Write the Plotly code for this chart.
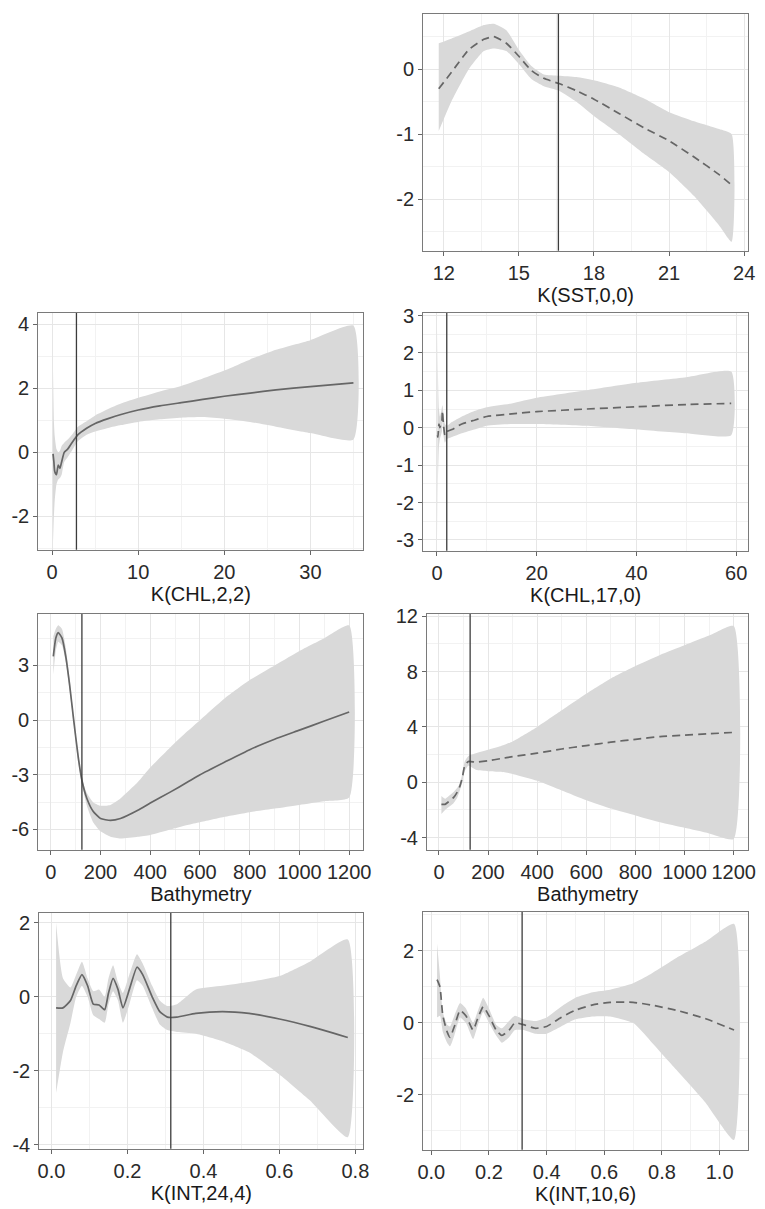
import plotly.graph_objects as go

# ---------------- data ----------------
sst_x = [11.8, 12.3, 13.0, 13.6, 14.0, 14.5, 15.0, 15.5, 16.0, 16.6, 17.3, 18.0, 19.0, 20.0, 21.0, 22.0, 23.0, 23.5]
sst_fit = [-0.3, -0.05, 0.3, 0.46, 0.5, 0.4, 0.2, -0.02, -0.14, -0.22, -0.33, -0.46, -0.68, -0.9, -1.1, -1.35, -1.62, -1.78]
sst_up = [0.4, 0.47, 0.58, 0.68, 0.7, 0.6, 0.3, 0.05, -0.08, -0.1, -0.12, -0.17, -0.28, -0.45, -0.66, -0.8, -0.92, -1.0]
sst_lo = [-0.95, -0.5, 0.0, 0.28, 0.32, 0.28, 0.08, -0.15, -0.26, -0.33, -0.5, -0.72, -1.0, -1.3, -1.58, -1.95, -2.4, -2.65]
sst_vline = 16.58

chl22_x = [0.1, 0.2, 0.3, 0.5, 0.7, 0.9, 1.1, 1.4, 1.8, 2.3, 3.0, 4.0, 5.0, 6.5, 8.0, 10, 12.5, 15, 17.5, 20, 23, 26, 30, 35]
chl22_fit = [-0.05, -0.3, -0.6, -0.7, -0.4, -0.5, -0.3, 0.0, 0.1, 0.3, 0.55, 0.75, 0.9, 1.05, 1.18, 1.32, 1.45, 1.55, 1.65, 1.75, 1.85, 1.95, 2.05, 2.17]
chl22_up = [2.6, 1.0, 0.5, 0.1, 0.0, 0.05, 0.2, 0.3, 0.4, 0.55, 0.8, 0.97, 1.15, 1.35, 1.52, 1.7, 1.9, 2.07, 2.3, 2.55, 2.9, 3.2, 3.5, 3.95]
chl22_lo = [-2.8, -2.0, -1.5, -1.0, -0.85, -0.8, -0.7, -0.3, -0.15, 0.05, 0.35, 0.55, 0.65, 0.76, 0.85, 0.95, 1.03, 1.08, 1.1, 1.05, 0.95, 0.8, 0.6, 0.4]
chl22_vline = 2.82

chl170_x = [0.1, 0.2, 0.4, 0.6, 0.8, 1.0, 1.1, 1.3, 1.6, 2.0, 3.0, 5.0, 7.5, 10, 15, 20, 30, 40, 50, 59]
chl170_fit = [-0.2, -0.25, 0.1, 0.0, 0.1, 0.2, 0.45, 0.1, -0.2, -0.1, -0.05, 0.1, 0.2, 0.3, 0.37, 0.43, 0.5, 0.56, 0.62, 0.65]
chl170_up = [2.7, 1.5, 0.5, 0.3, 0.4, 0.55, 0.6, 0.4, 0.1, 0.05, 0.15, 0.3, 0.45, 0.55, 0.65, 0.8, 1.0, 1.2, 1.35, 1.5]
chl170_lo = [-3.0, -1.5, -0.5, -0.3, -0.2, -0.1, 0.2, -0.2, -0.4, -0.3, -0.25, -0.15, -0.05, 0.05, 0.1, 0.1, 0.05, -0.05, -0.15, -0.2]
chl170_vline = 1.97

bath1_x = [10, 20, 30, 45, 60, 75, 92, 110, 125, 145, 170, 200, 240, 280, 350, 400, 480, 550, 600, 700, 800, 900, 1000, 1100, 1200]
bath1_fit = [3.5, 4.5, 4.8, 4.5, 3.5, 2.0, 0.0, -2.0, -3.3, -4.3, -5.0, -5.4, -5.5, -5.4, -4.95, -4.55, -3.95, -3.4, -3.0, -2.3, -1.62, -1.05, -0.55, -0.05, 0.45]
bath1_up = [4.6, 5.0, 5.2, 5.0, 4.0, 2.3, 0.1, -1.8, -3.2, -4.0, -4.5, -4.7, -4.65, -4.3, -3.4, -2.6, -1.5, -0.6, 0.0, 1.2, 2.2, 3.0, 3.8, 4.5, 5.2]
bath1_lo = [2.5, 3.8, 4.3, 4.1, 3.2, 1.7, -0.2, -2.3, -3.5, -4.7, -5.6, -6.1, -6.4, -6.5, -6.4, -6.3, -6.0, -5.75, -5.6, -5.3, -5.05, -4.85, -4.65, -4.45, -4.25]
bath1_vline = 125

bath2_x = [10, 25, 40, 60, 75, 85, 95, 105, 120, 150, 200, 250, 300, 400, 500, 600, 700, 800, 900, 1000, 1100, 1200]
bath2_fit = [-1.6, -1.6, -1.4, -1.1, -0.7, -0.3, 0.3, 1.2, 1.5, 1.45, 1.55, 1.7, 1.85, 2.1, 2.4, 2.65, 2.9, 3.1, 3.3, 3.4, 3.5, 3.6]
bath2_up = [-1.0, -1.2, -1.0, -0.7, -0.4, -0.1, 0.6, 1.5, 1.9, 2.1, 2.35, 2.6, 2.95, 4.0, 5.2, 6.4, 7.5, 8.4, 9.2, 9.9, 10.6, 11.3]
bath2_lo = [-2.3, -2.0, -1.8, -1.5, -1.1, -0.6, 0.0, 0.8, 1.2, 0.9, 0.8, 0.75, 0.6, 0.1, -0.6, -1.3, -1.9, -2.4, -2.9, -3.3, -3.7, -4.1]
bath2_vline = 127

int244_x = [0.012, 0.03, 0.05, 0.065, 0.08, 0.095, 0.11, 0.125, 0.14, 0.15, 0.162, 0.175, 0.188, 0.205, 0.225, 0.24, 0.265, 0.285, 0.305, 0.33, 0.38, 0.45, 0.52, 0.6, 0.68, 0.78]
int244_fit = [-0.3, -0.3, -0.1, 0.3, 0.6, 0.3, -0.2, -0.22, -0.35, 0.1, 0.5, 0.2, -0.3, 0.2, 0.8, 0.6, 0.0, -0.4, -0.55, -0.55, -0.45, -0.4, -0.45, -0.6, -0.8, -1.1]
int244_up = [2.0, 0.5, 0.25, 0.6, 0.95, 0.5, 0.15, 0.2, 0.0, 0.5, 0.85, 0.4, 0.1, 0.6, 1.15, 0.9, 0.3, -0.1, -0.25, -0.2, 0.2, 0.3, 0.4, 0.56, 0.95, 1.55]
int244_lo = [-2.6, -1.5, -0.7, 0.0, 0.3, 0.0, -0.5, -0.6, -0.7, -0.2, 0.15, -0.1, -0.7, -0.2, 0.45, 0.3, -0.3, -0.75, -0.9, -0.95, -1.0, -1.2, -1.5, -2.1, -2.8, -3.8]
int244_vline = 0.314

int106_x = [0.02, 0.03, 0.04, 0.055, 0.065, 0.08, 0.1, 0.12, 0.145, 0.16, 0.18, 0.2, 0.225, 0.245, 0.27, 0.29, 0.32, 0.36, 0.4, 0.45, 0.5, 0.56, 0.62, 0.7, 0.76, 0.85, 0.95, 1.05]
int106_fit = [1.2, 1.0, 0.2, -0.25, -0.4, -0.1, 0.35, 0.2, -0.2, 0.1, 0.45, 0.2, -0.2, -0.35, -0.2, 0.0, -0.05, -0.15, -0.1, 0.15, 0.35, 0.5, 0.57, 0.57, 0.5, 0.35, 0.12, -0.2]
int106_up = [2.2, 1.3, 0.3, -0.05, -0.1, 0.2, 0.55, 0.4, 0.0, 0.3, 0.7, 0.4, -0.05, -0.15, 0.05, 0.2, 0.1, 0.05, 0.15, 0.45, 0.7, 0.85, 0.92, 1.1, 1.35, 1.8, 2.25, 2.75]
int106_lo = [0.15, 0.2, -0.25, -0.55, -0.65, -0.35, 0.15, 0.0, -0.45, -0.1, 0.3, 0.0, -0.35, -0.55, -0.4, -0.2, -0.2, -0.3, -0.3, -0.1, 0.1, 0.18, 0.18, 0.0, -0.5, -1.3, -2.2, -3.25]
int106_vline = 0.315

# axis titles and tick labels
titles = ["K(SST,0,0)", "K(CHL,2,2)", "K(CHL,17,0)", "Bathymetry", "Bathymetry", "K(INT,24,4)", "K(INT,10,6)"]
x_tickvals = [[12, 15, 18, 21, 24], [0, 10, 20, 30], [0, 20, 40, 60],
              [0, 200, 400, 600, 800, 1000, 1200], [0, 200, 400, 600, 800, 1000, 1200],
              [0.0, 0.2, 0.4, 0.6, 0.8], [0.0, 0.2, 0.4, 0.6, 0.8, 1.0]]
x_ticktext = [["12", "15", "18", "21", "24"], ["0", "10", "20", "30"], ["0", "20", "40", "60"],
              ["0", "200", "400", "600", "800", "1000", "1200"], ["0", "200", "400", "600", "800", "1000", "1200"],
              ["0.0", "0.2", "0.4", "0.6", "0.8"], ["0.0", "0.2", "0.4", "0.6", "0.8", "1.0"]]
y_tickvals = [[-2, -1, 0], [-2, 0, 2, 4], [-3, -2, -1, 0, 1, 2, 3], [-6, -3, 0, 3],
              [-4, 0, 4, 8, 12], [-4, -2, 0, 2], [-2, 0, 2]]
y_ticktext = [["-2", "-1", "0"], ["-2", "0", "2", "4"], ["-3", "-2", "-1", "0", "1", "2", "3"],
              ["-6", "-3", "0", "3"], ["-4", "0", "4", "8", "12"], ["-4", "-2", "0", "2"], ["-2", "0", "2"]]

# ---------------- layout geometry ----------------
W, H = 765, 1209
panels_px = [  # (left, right, top, bottom) in px
    (425, 756, 5, 245),
    (33, 364, 308, 548),
    (425, 756, 308, 549),
    (33, 364, 613, 852),
    (429, 756, 613, 852),
    (34, 364, 916, 1155),
    (425, 756, 915, 1156),
]
x_ranges = [[11.18, 24.16], [-1.6, 36.15], [-2.75, 62.4], [-50, 1257], [-48, 1259], [-0.032, 0.821], [-0.028, 1.099]]
y_ranges = [[-2.79, 0.85], [-3.04, 4.35], [-3.29, 3.07], [-7.11, 5.83], [-4.88, 12.17], [-4.11, 2.27], [-3.52, 3.08]]
x_minor = [1.5, 5, 10, 100, 100, 0.1, 0.1]
y_minor = [0.5, 1, 0.5, 1.5, 2, 1, 1]

series = [
    (sst_x, sst_fit, sst_up, sst_lo, sst_vline, True),
    (chl22_x, chl22_fit, chl22_up, chl22_lo, chl22_vline, False),
    (chl170_x, chl170_fit, chl170_up, chl170_lo, chl170_vline, True),
    (bath1_x, bath1_fit, bath1_up, bath1_lo, bath1_vline, False),
    (bath2_x, bath2_fit, bath2_up, bath2_lo, bath2_vline, True),
    (int244_x, int244_fit, int244_up, int244_lo, int244_vline, False),
    (int106_x, int106_fit, int106_up, int106_lo, int106_vline, True),
]

FONT = "Liberation Sans, Arial, sans-serif"
FS = 20
fig = go.Figure()
layout = dict(width=W, height=H, margin=dict(l=0, r=0, t=0, b=0),
              paper_bgcolor="white", plot_bgcolor="white", showlegend=False,
              font=dict(family=FONT, size=FS, color="#1a1a1a"))
shapes = []

for i, (xs, fit, up, lo, vx, dashed) in enumerate(series):
    n = "" if i == 0 else str(i + 1)
    xa, ya = "x" + n, "y" + n
    fig.add_trace(go.Scatter(x=list(xs) + list(xs)[::-1], y=list(up) + list(lo)[::-1],
                             fill="toself", fillcolor="#d9d9d9", line=dict(width=0, shape="spline", smoothing=0.5),
                             mode="lines", hoverinfo="skip", xaxis=xa, yaxis=ya))
    fig.add_trace(go.Scatter(x=xs, y=fit, mode="lines",
                             line=dict(color="#666666", width=1.7, shape="spline", smoothing=0.5,
                                       dash="8px,5px" if dashed else "solid"),
                             xaxis=xa, yaxis=ya))
    shapes.append(dict(type="line", xref=xa, yref=ya + " domain", x0=vx, x1=vx, y0=0, y1=1,
                       line=dict(color="#3c3c3c", width=1.3)))
    l, r, t, b = panels_px[i]
    common = dict(showline=True, mirror=True, linecolor="#7a7a7a", linewidth=1.3,
                  showgrid=True, gridcolor="#e6e6e6", gridwidth=1, zeroline=False,
                  ticks="outside", ticklen=4, tickcolor="#666666",
                  tickfont=dict(family=FONT, size=FS, color="#2a2a2a"))
    layout["xaxis" + n] = dict(common, domain=[l / W, r / W], anchor=ya, range=x_ranges[i],
                               tickmode="array", tickvals=x_tickvals[i], ticktext=x_ticktext[i],
                               minor=dict(dtick=x_minor[i], tick0=0, showgrid=True, gridcolor="#f2f2f2", ticks=""),
                               title=dict(text=titles[i], standoff=0, font=dict(family=FONT, size=FS, color="#1a1a1a")))
    layout["yaxis" + n] = dict(common, domain=[1 - b / H, 1 - t / H], anchor=xa, range=y_ranges[i],
                               tickmode="array", tickvals=y_tickvals[i], ticktext=y_ticktext[i],
                               minor=dict(dtick=y_minor[i], tick0=0, showgrid=True, gridcolor="#f2f2f2", ticks=""))

layout["shapes"] = shapes
fig.update_layout(**layout)
fig.write_html("out.html", config={"displayModeBar": False},
               post_script="document.body.style.margin='0';document.body.style.overflow='hidden';")
